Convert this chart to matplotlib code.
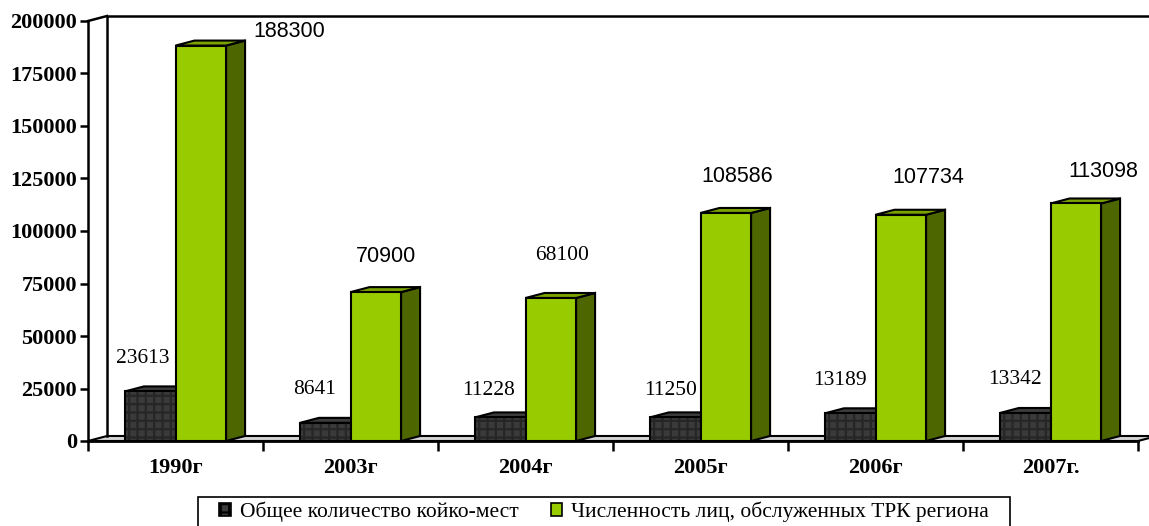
import matplotlib.pyplot as plt
from matplotlib.patches import Polygon, Patch, Rectangle
import numpy as np

years = ['1990г', '2003г', '2004г', '2005г', '2006г', '2007г.']
beds = [23613, 8641, 11228, 11250, 13189, 13342]
people = [188300, 70900, 68100, 108586, 107734, 113098]
names = ['Общее количество койко-мест', 'Численность лиц, обслуженных ТРК региона']

plt.rcParams['hatch.linewidth'] = 1.6

W, H = 1149, 526
fig = plt.figure(figsize=(W / 100, H / 100), dpi=100)
# front plane: x 88..1138 px, y 441 (0) .. 21 (200000)
ax = fig.add_axes([88 / W, (H - 441) / H, 1050 / W, 420 / H])
ax.set_xlim(0, 6)
ax.set_ylim(0, 200000)

# depth of the fake 3d, in data units
dx = 19 / 175
dy = 5 / 420 * 200000
bw = 0.289
x = np.arange(len(years)) + 0.5

# floor and back wall
ax.add_patch(Polygon([(0, 0), (6, 0), (6 + dx, dy), (dx, dy)], closed=True,
                     facecolor='#d4d4d4', edgecolor='black', lw=1.5, clip_on=False, zorder=1))
ax.plot([dx, dx, 6 + dx], [dy, 200000 + dy, 200000 + dy], color='black', lw=1.8,
        clip_on=False, zorder=1)
ax.plot([0, dx], [200000, 200000 + dy], color='black', lw=1.8, clip_on=False, zorder=1)


def sides(x0, h, top, side, z):
    x1 = x0 + bw
    ax.add_patch(Polygon([(x1, 0), (x1 + dx, dy), (x1 + dx, h + dy), (x1, h)], closed=True,
                         facecolor=side, edgecolor='black', lw=1.5, zorder=z, clip_on=False))
    ax.add_patch(Polygon([(x0, h), (x1, h), (x1 + dx, h + dy), (x0 + dx, h + dy)], closed=True,
                         facecolor=top, edgecolor='black', lw=1.5, zorder=z, clip_on=False))


# dark bars (beds)
for xi, v in zip(x - bw, beds):
    sides(xi, v, '#3c3c3c', '#1e1e1e', 3)
ax.bar(x - bw, beds, bw, align='edge', color='#3a3a3a', hatch='++', edgecolor='#262626',
       lw=0, zorder=3)
ax.bar(x - bw, beds, bw, align='edge', fill=False, edgecolor='black', lw=1.5, zorder=4)

# green bars (people)
for xi, v in zip(x, people):
    sides(xi, v, '#7aa300', '#4d6600', 5)
ax.bar(x, people, bw, align='edge', color='#99cc00', edgecolor='black', lw=1.5, zorder=6,
       clip_on=False)

# value labels, offsets in pixels as they sit in the original (dragged by hand)
dark_off = [(-7.5, 33), (-10.5, 33), (-12, 27), (-5, 27), (-10, 33), (-10, 33)]
green_off = [(88, 14), (10, 36), (11, 42), (11, 36), (28, 37), (28, 32)]
green_font = ['Liberation Sans', 'Liberation Sans', 'Liberation Serif',
              'Liberation Sans', 'Liberation Sans', 'Liberation Sans']
for xi, v, off in zip(x - bw / 2, beds, dark_off):
    ax.annotate(str(v), (xi, v), xytext=(off[0] * 0.72, off[1] * 0.72),
                textcoords='offset points', ha='center', va='center', fontsize=15.5,
                family='Liberation Serif', zorder=8)
for xi, v, off, fam in zip(x + bw / 2, people, green_off, green_font):
    ax.annotate(str(v), (xi, v), xytext=(off[0] * 0.72, off[1] * 0.72),
                textcoords='offset points', ha='center', va='center', fontsize=15.5,
                family=fam, zorder=8)

# axes
for s in ['top', 'right']:
    ax.spines[s].set_visible(False)
ax.spines['left'].set_linewidth(1.8)
ax.spines['bottom'].set_linewidth(2)
ax.spines['bottom'].set_zorder(7)
ax.set_yticks(np.arange(0, 200001, 25000))
ax.set_yticklabels([str(v) for v in range(0, 200001, 25000)],
                   family='Liberation Serif', fontweight='bold', fontsize=16)
ax.tick_params(axis='y', length=6, width=1.8, pad=2)
ax.set_xticks(range(7))
ax.set_xticklabels([])
ax.tick_params(axis='x', length=7, width=1.8)
ax.set_xticks(x, minor=True)
ax.set_xticklabels(years, minor=True, family='Liberation Serif', fontweight='bold', fontsize=16)
ax.tick_params(axis='x', which='minor', length=0, pad=12)

# legend (its box runs off the bottom edge in the original)
fig.patches.append(Rectangle((198 / W, -0.05), 812 / W, 0.05 + 29 / H,
                             transform=fig.transFigure, facecolor='white',
                             edgecolor='black', lw=1.2, zorder=0))
handles = [Patch(facecolor='#3a3a3a', edgecolor='black', hatch='++', lw=1.2),
           Patch(facecolor='#99cc00', edgecolor='black', lw=1.2)]
leg = fig.legend(handles, names, loc='upper center', bbox_to_anchor=(604 / W, 1 - 497 / H),
                 ncol=2, frameon=False,
                 prop={'family': 'Liberation Serif', 'size': 15.5},
                 handlelength=0.55, handleheight=0.55, handletextpad=0.4,
                 columnspacing=1.5, borderpad=0.2, borderaxespad=0)

fig.savefig('out.png', dpi=100)
